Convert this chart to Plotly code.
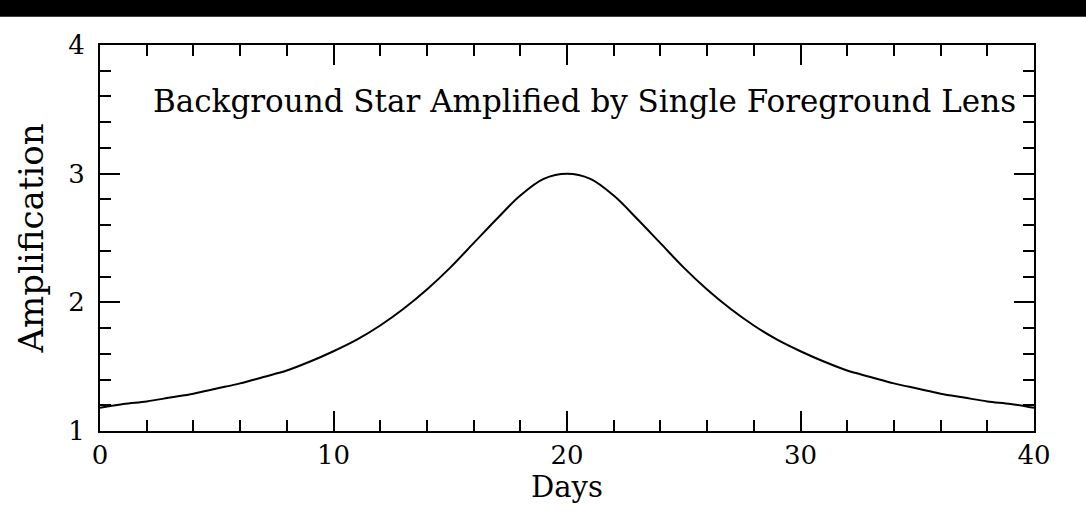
import plotly.graph_objects as go

# Light curve of a background star lensed by a single foreground object
days = list(range(0, 41))
amplification = [
    1.18, 1.21, 1.23, 1.26, 1.29, 1.33, 1.37, 1.42, 1.47, 1.54,
    1.62, 1.71, 1.82, 1.95, 2.10, 2.27, 2.46, 2.65, 2.83, 2.96,
    3.00,
    2.96, 2.83, 2.65, 2.46, 2.27, 2.10, 1.95, 1.82, 1.71, 1.62,
    1.54, 1.47, 1.42, 1.37, 1.33, 1.29, 1.26, 1.23, 1.21, 1.18,
]
x_ticks = [0, 10, 20, 30, 40]
y_ticks = [1, 2, 3, 4]
title_text = "Background Star Amplified by Single Foreground Lens"
x_title = "Days"
y_title = "Amplification"

FONT = "DejaVu Serif"

fig = go.Figure()
fig.add_trace(go.Scatter(
    x=days, y=amplification, mode="lines",
    line=dict(color="black", width=2, shape="spline", smoothing=1.0),
    showlegend=False, hoverinfo="skip",
))

axis_common = dict(
    showgrid=False, zeroline=False, automargin=False,
    showline=True, linecolor="black", linewidth=2, mirror="allticks",
    ticks="inside", ticklen=20, tickwidth=2, tickcolor="black",
    tickfont=dict(family=FONT, size=26, color="black"),
)

fig.update_xaxes(
    range=[0, 40], tickvals=x_ticks, ticktext=[str(v) for v in x_ticks],
    minor=dict(dtick=2, ticks="inside", ticklen=11, tickwidth=2, tickcolor="black"),
    ticklabelstandoff=0,
    **axis_common,
)
fig.update_yaxes(
    range=[1, 4], tickvals=y_ticks, ticktext=[str(v) for v in y_ticks],
    minor=dict(dtick=0.2, ticks="inside", ticklen=11, tickwidth=2, tickcolor="black"),
    title=dict(text=y_title, font=dict(family=FONT, size=34, color="black"), standoff=14),
    ticklabelstandoff=8,
    **axis_common,
)

# x-axis title placed just below the tick labels
fig.add_annotation(
    x=0.5, y=-0.145, xref="paper", yref="paper",
    text=x_title, showarrow=False,
    font=dict(family=FONT, size=29, color="black"),
    xanchor="center", yanchor="middle",
)

fig.add_annotation(
    x=0.519, y=0.855, xref="paper", yref="paper",
    text=title_text, showarrow=False,
    font=dict(family=FONT, size=31, color="black"),
    xanchor="center", yanchor="middle",
)

# dark strip along the top edge of the page
fig.add_shape(
    type="rect", xref="paper", yref="paper",
    x0=-0.2, x1=1.2, y0=1.073, y1=1.2,
    fillcolor="black", line=dict(width=0), layer="above",
)

fig.update_layout(
    width=1086, height=515,
    margin=dict(l=100, r=52, t=45, b=84),
    paper_bgcolor="white", plot_bgcolor="white",
)

fig.write_html("out.html")
